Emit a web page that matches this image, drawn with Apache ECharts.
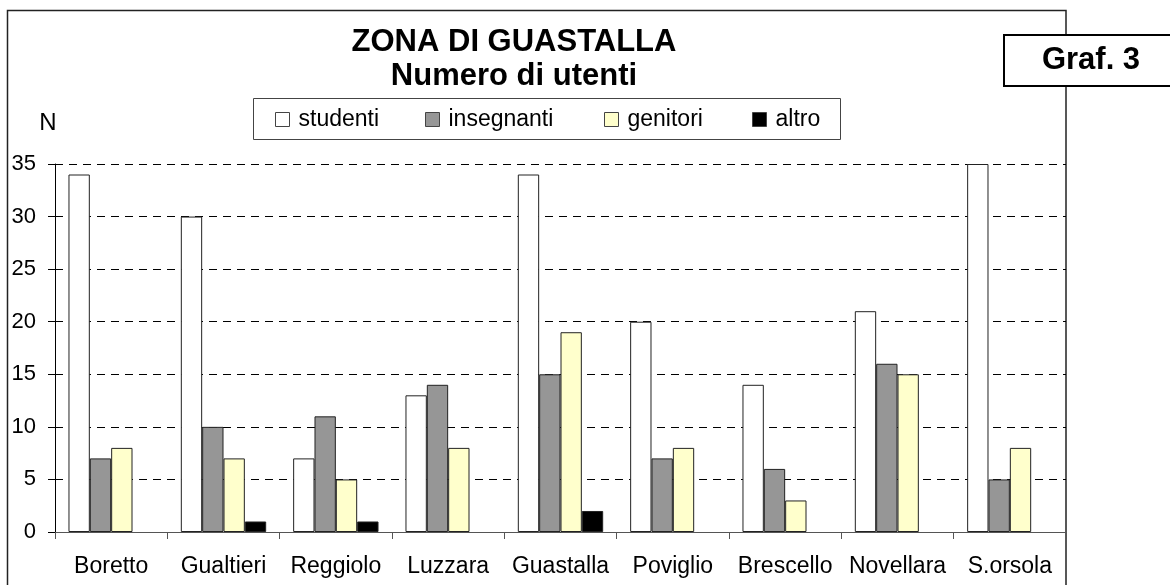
<!DOCTYPE html>
<html>
<head>
<meta charset="utf-8">
<script src="https://cdn.jsdelivr.net/npm/echarts@6/dist/echarts.min.js"></script>
<style>
html,body{margin:0;padding:0;background:#fff;}
#chart{width:1170px;height:585px;}
</style>
</head>
<body>
<div id="chart"></div>
<script>
var categories = ['Boretto','Gualtieri','Reggiolo','Luzzara','Guastalla','Poviglio','Brescello','Novellara','S.orsola'];
var studenti    = [34, 30, 7, 13, 34, 20, 14, 21, 35];
var insegnanti  = [7, 10, 11, 14, 15, 7, 6, 16, 5];
var genitori    = [8, 7, 5, 8, 19, 8, 3, 15, 8];
var altro       = [0, 1, 1, 0, 2, 0, 0, 0, 0];
var seriesNames = ['studenti','insegnanti','genitori','altro'];
var seriesColors = ['#FFFFFF','#969696','#FFFFCC','#000000'];
var yTicks = { min: 0, max: 35, interval: 5 };

var FONT = '"Liberation Sans", Arial, sans-serif';
var chart = echarts.init(document.getElementById('chart'), null, {renderer: 'canvas'});

var dataArr = [studenti, insegnanti, genitori, altro];
var legendLefts = [275, 425, 604, 752];

var legends = seriesNames.map(function(n, i){
  return {
    data: [n],
    left: legendLefts[i],
    top: 108,
    padding: 0,
    itemWidth: 14,
    itemHeight: 14,
    icon: 'rect',
    selectedMode: false,
    itemStyle: { borderColor: '#444', borderWidth: 1 },
    textStyle: { fontFamily: FONT, fontSize: 23, color: '#000', padding: [0,0,0,4] }
  };
});

var option = {
  backgroundColor: '#fff',
  animation: false,
  title: [{
    text: 'ZONA DI GUASTALLA',
    subtext: 'Numero di utenti',
    left: 514,
    top: 27,
    textAlign: 'center',
    padding: 0,
    itemGap: 3,
    textStyle: { fontFamily: FONT, fontSize: 31, fontWeight: 'bold', color: '#000', lineHeight: 31 },
    subtextStyle: { fontFamily: FONT, fontSize: 31, fontWeight: 'bold', color: '#000', lineHeight: 31 }
  }],
  legend: legends,
  grid: { left: 55, right: 104, top: 164, bottom: 53, containLabel: false },
  xAxis: {
    type: 'category',
    data: categories,
    axisLine: { show: true, lineStyle: { color: '#555', width: 1 } },
    axisTick: { show: true, alignWithLabel: false, length: 7, lineStyle: { color: '#555' } },
    axisLabel: { fontFamily: FONT, fontSize: 23, color: '#000', margin: 23, interval: 0 },
    splitLine: { show: false }
  },
  yAxis: {
    type: 'value',
    min: yTicks.min, max: yTicks.max, interval: yTicks.interval,
    axisLine: { show: true, lineStyle: { color: '#000', width: 1 } },
    axisTick: { show: true, inside: false, length: 7, lineStyle: { color: '#000' } },
    axisLabel: { fontFamily: FONT, fontSize: 22, color: '#000', margin: 19 },
    splitLine: { show: true, lineStyle: { color: '#000', type: [8, 6], width: 1 } }
  },
  series: seriesNames.map(function(n, i){
    return {
      name: n,
      type: 'bar',
      data: dataArr[i].map(function(v){
        return v === 0 ? { value: v, itemStyle: { borderWidth: 0 } } : v;
      }),
      barGap: '0%',
      barCategoryGap: '24%',
      itemStyle: { color: seriesColors[i], borderColor: '#222', borderWidth: 1 },
      emphasis: { disabled: true }
    };
  }),
  graphic: [
    { type: 'rect', z: -10, shape: { x: 7.5, y: 10.5, width: 1058.5, height: 600 },
      style: { fill: 'none', stroke: '#222', lineWidth: 1.5 } },
    { type: 'rect', z: 5, shape: { x: 253.5, y: 98.5, width: 587, height: 41 },
      style: { fill: 'none', stroke: '#444', lineWidth: 1 } },
    { type: 'rect', z: 20, shape: { x: 1004, y: 35, width: 170, height: 51 },
      style: { fill: '#fff', stroke: '#000', lineWidth: 2 } },
    { type: 'text', z: 21, x: 1091, y: 60,
      style: { text: 'Graf. 3', fontFamily: FONT, fontSize: 31, fontWeight: 'bold', fill: '#000', align: 'center', verticalAlign: 'middle' } },
    { type: 'text', z: 21, x: 48, y: 123,
      style: { text: 'N', fontFamily: FONT, fontSize: 24, fill: '#000', align: 'center', verticalAlign: 'middle' } }
  ]
};
chart.setOption(option);
</script>
</body>
</html>
